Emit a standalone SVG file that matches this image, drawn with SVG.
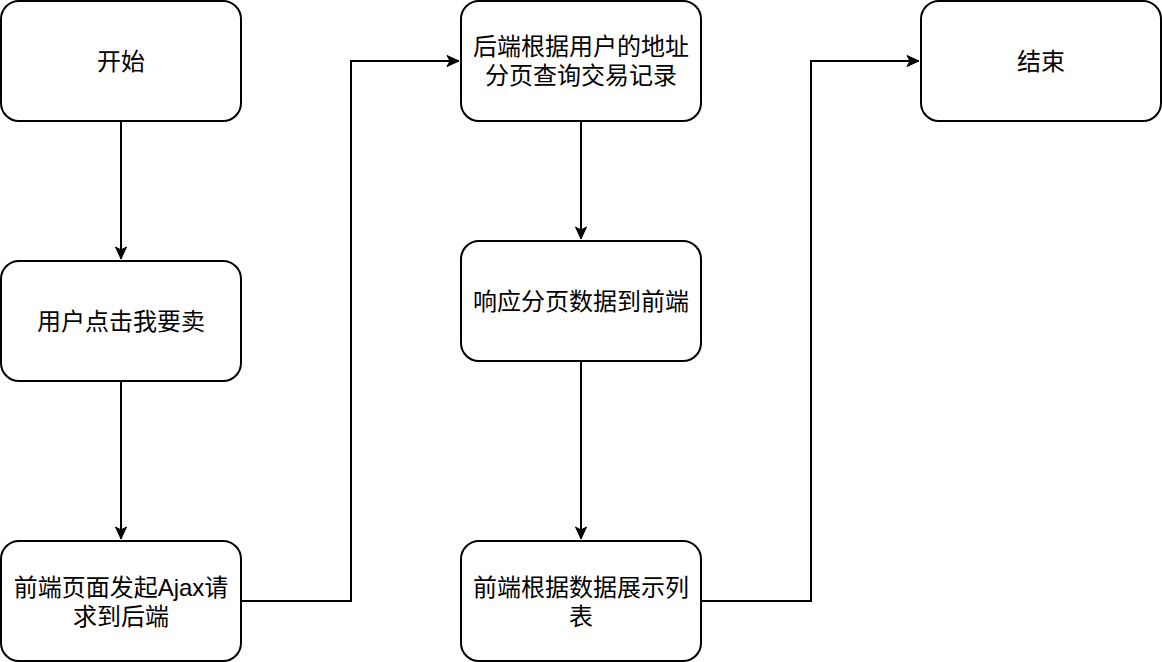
<svg xmlns="http://www.w3.org/2000/svg" width="1162" height="662" viewBox="0 0 1162 662">
<style>
.box{fill:#fff;stroke:#000;stroke-width:2}
.lbl{font-family:"Helvetica","Liberation Sans","Noto Sans CJK SC",sans-serif;font-size:24px;fill:#000;text-anchor:middle}
.edge{fill:none;stroke:#000;stroke-width:2}
</style>
<defs>
<marker id="arr" markerUnits="userSpaceOnUse" markerWidth="14" markerHeight="14" viewBox="0 0 14 14" refX="13" refY="7" orient="auto">
<path d="M1,1.5 L13,7 L1,12.5 L4,7 Z" fill="#000" stroke="#000" stroke-width="1"/>
</marker>
</defs>
<rect width="1162" height="662" fill="#fff"/>
<g id="connectors">
<path class="edge" d="M121,121 V259" marker-end="url(#arr)"/>
<path class="edge" d="M121,381 V539" marker-end="url(#arr)"/>
<path class="edge" d="M241,601 H351 V61 H459" marker-end="url(#arr)"/>
<path class="edge" d="M581,121 V239" marker-end="url(#arr)"/>
<path class="edge" d="M581,361 V539" marker-end="url(#arr)"/>
<path class="edge" d="M701,601 H811 V61 H919" marker-end="url(#arr)"/>
</g>
<g id="start">
<rect class="box" x="1" y="1" width="240" height="120" rx="18"/>
<text class="lbl" x="121" y="70">开始</text>
</g>
<g id="click">
<rect class="box" x="1" y="261" width="240" height="120" rx="18"/>
<text class="lbl" x="121" y="330">用户点击我要卖</text>
</g>
<g id="ajax">
<rect class="box" x="1" y="541" width="240" height="120" rx="18"/>
<text class="lbl" x="121" y="596">前端页面发起Ajax请</text>
<text class="lbl" x="121" y="625">求到后端</text>
</g>
<g id="query">
<rect class="box" x="461" y="1" width="240" height="120" rx="18"/>
<text class="lbl" x="581" y="55">后端根据用户的地址</text>
<text class="lbl" x="581" y="84">分页查询交易记录</text>
</g>
<g id="respond">
<rect class="box" x="461" y="241" width="240" height="120" rx="18"/>
<text class="lbl" x="581" y="310">响应分页数据到前端</text>
</g>
<g id="show">
<rect class="box" x="461" y="541" width="240" height="120" rx="18"/>
<text class="lbl" x="581" y="596">前端根据数据展示列</text>
<text class="lbl" x="581" y="625">表</text>
</g>
<g id="end">
<rect class="box" x="921" y="1" width="240" height="120" rx="18"/>
<text class="lbl" x="1041" y="70">结束</text>
</g>
</svg>
